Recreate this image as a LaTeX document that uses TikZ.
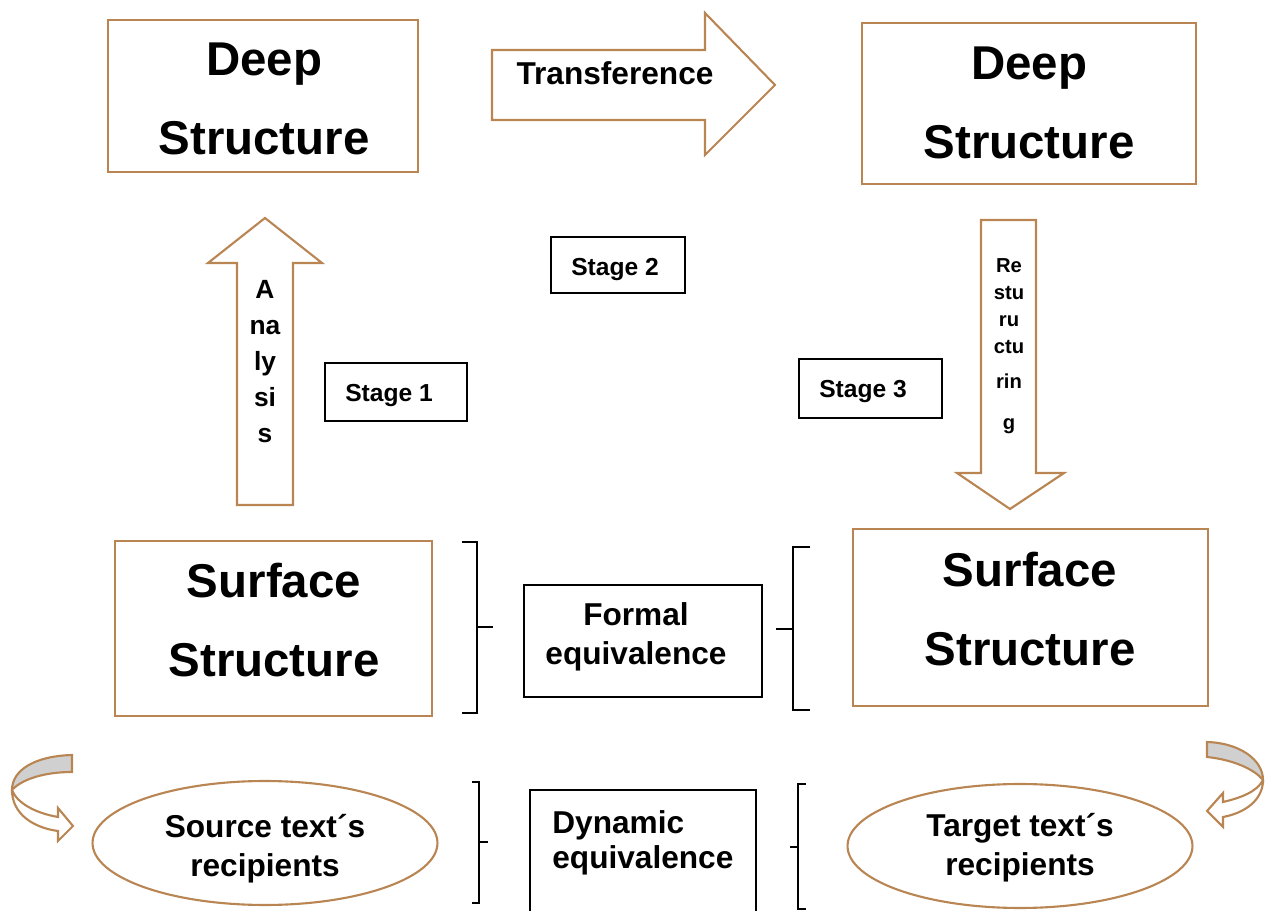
\documentclass[tikz,border=0pt]{standalone}
\usepackage{fontspec}
\setmainfont{Liberation Sans}
\usetikzlibrary{shapes.geometric}
\definecolor{brn}{RGB}{185,133,82}
\definecolor{lgray}{RGB}{208,208,208}
\tikzset{
  big/.style={font=\fontsize{27}{45}\selectfont\bfseries,align=center},
  mid/.style={font=\fontsize{18}{22}\selectfont\bfseries,align=center},
  small/.style={font=\fontsize{14}{17}\selectfont\bfseries},
  brbox/.style={draw=brn,line width=1.2pt},
  blbox/.style={draw=black,line width=1pt},
  brack/.style={line width=0.8pt},
  elbox/.style={ellipse,draw=brn,line width=1.2pt,minimum width=6.9cm,minimum height=2.48cm}
}
\begin{document}
\begin{tikzpicture}[x=0.02cm,y=-0.02cm]
\useasboundingbox (0,0) rectangle (1265,911);
\node[brbox,minimum width=6.2cm,minimum height=3.04cm] (deepL) at (263,96) {};
\node[brbox,minimum width=6.68cm,minimum height=3.22cm] (deepR) at (1029,103.5) {};
\node[brbox,minimum width=6.34cm,minimum height=3.5cm] (surfL) at (273.5,628.5) {};
\node[brbox,minimum width=7.1cm,minimum height=3.54cm] (surfR) at (1030.5,617.5) {};
\node[big] (deepLtxt) at (264,99) {Deep\\Structure};
\node[big] (deepRtxt) at (1029,103) {Deep\\Structure};
\node[big] (surfLtxt) at (274,620) {Surface\\Structure};
\node[big] (surfRtxt) at (1030,609) {Surface\\Structure};
\node[blbox,minimum width=2.68cm,minimum height=1.12cm] (st2) at (618,265) {};
\node[blbox,minimum width=2.84cm,minimum height=1.16cm] (st1) at (396,392) {};
\node[blbox,minimum width=2.86cm,minimum height=1.18cm] (st3) at (870.5,388.5) {};
\node[small] (st2txt) at (615,270) {Stage 2};
\node[small] (st1txt) at (389,396) {Stage 1};
\node[small] (st3txt) at (863,392) {Stage 3};
\node[blbox,minimum width=4.76cm,minimum height=2.24cm] (formal) at (643,641) {};
\node[mid] (formaltxt) at (636,637) {Formal\\equivalence};
\node[blbox,minimum width=4.52cm,minimum height=2.6cm] (dyn) at (643,855) {};
\node[mid,align=left,anchor=north west,inner sep=0pt] (dyntxt) at (552,810) {Dynamic\\[-2pt]equivalence};
\node[elbox] (srcrec) at (265,843) {};
\node[elbox] (tgtrec) at (1020,846) {};
\node[mid] (srctxt) at (265,849) {Source text´s\\recipients};
\node[mid] (tgttxt) at (1020,848) {Target text´s\\recipients};
\draw[brbox] (492,50) -- (705,50) -- (705,13) -- (775,85) -- (705,155) -- (705,120) -- (492,120) -- cycle;
\node[font=\fontsize{18}{22}\selectfont\bfseries] (trans) at (615,73) {Transference};
\draw[brbox] (237,505) -- (237,263) -- (208,263) -- (265,218) -- (322,263) -- (293,263) -- (293,505) -- cycle;
\node[font=\fontsize{15}{20.5}\selectfont\bfseries,align=center] (anal) at (265,362) {A\\na\\ly\\si\\s};
\draw[brbox] (981,220) -- (1036,220) -- (1036,473) -- (1064,473) -- (1010,509) -- (957,473) -- (981,473) -- cycle;
\node[font=\fontsize{11.5}{15.5}\selectfont\bfseries,align=center] (restr) at (1009,346) {Re\\stu\\ru\\ctu\\[4pt]rin\\[8pt]g};
\draw[brack] (462,542) -- (477,542) -- (477,713) -- (462,713);
\draw[brack] (477,627) -- (493,627);
\draw[brack] (810,547) -- (793,547) -- (793,710) -- (810,710);
\draw[brack] (776,629) -- (793,629);
\draw[brack] (472,782) -- (479,782) -- (479,903) -- (472,903);
\draw[brack] (479,842) -- (488,842);
\draw[brack] (806,784) -- (798,784) -- (798,909) -- (806,909);
\draw[brack] (790,847) -- (798,847);
\draw[brbox,fill=lgray] (72,755) .. controls (35,756) and (12,770) .. (12,790) .. controls (22,779) and (45,772) .. (72,772) -- cycle;
\draw[brbox,fill=white] (12,790) .. controls (12,815) and (35,828) .. (58,831) -- (58,841) -- (73,826) -- (58,808) -- (58,817) .. controls (35,813) and (17,803) .. (12,790);
\draw[brbox,fill=lgray] (1207,742) .. controls (1240,743) and (1263,760) .. (1263,780) .. controls (1255,770) and (1235,760) .. (1207,757) -- cycle;
\draw[brbox,fill=white] (1263,780) .. controls (1263,800) and (1245,813) .. (1223,817) -- (1223,827) -- (1207,811) -- (1223,793) -- (1223,802) .. controls (1240,798) and (1257,792) .. (1263,780);
\end{tikzpicture}
\end{document}
